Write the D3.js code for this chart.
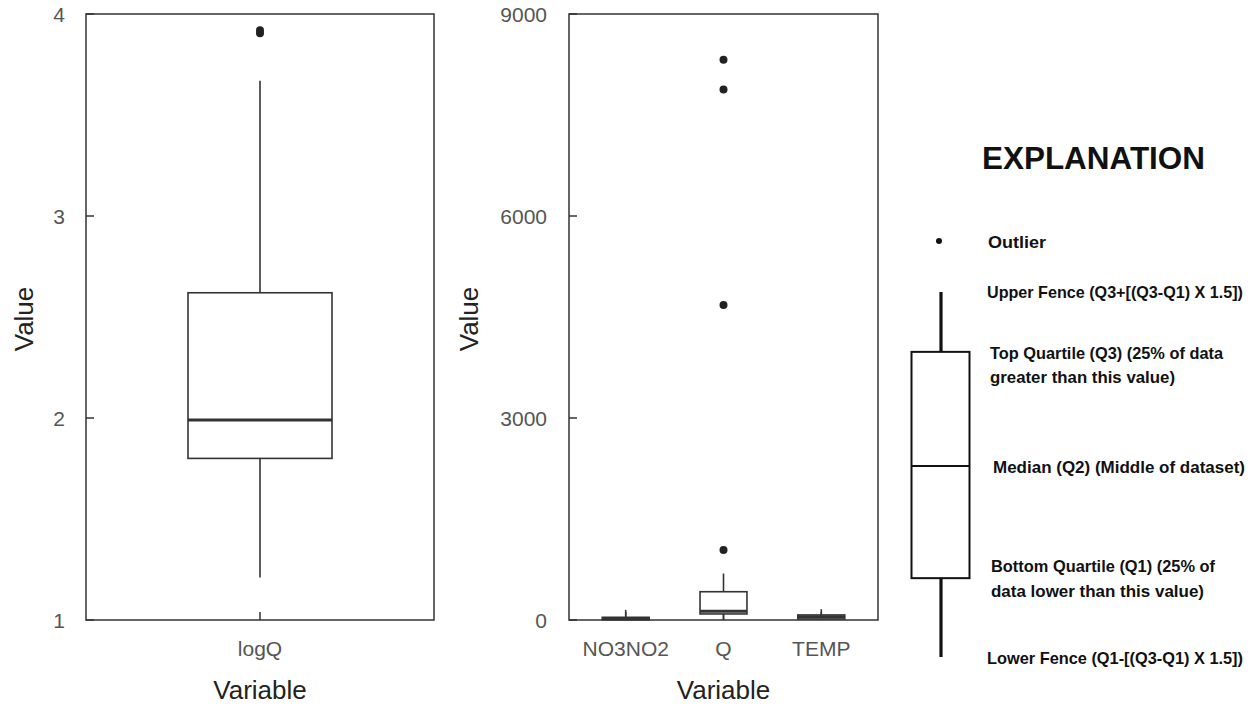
<!DOCTYPE html>
<html>
<head>
<meta charset="utf-8">
<script src="https://cdn.jsdelivr.net/npm/d3@7"></script>
<style>
  body { margin: 0; background: #fff; }
  svg { display: block; }
  .tick-label { font-family: "Liberation Sans", Arial, sans-serif; font-size: 21px; fill: #555; }
  .axis-title { font-family: "Liberation Sans", Arial, sans-serif; font-size: 26px; fill: #222; }
  .legend { font-family: "Liberation Sans Narrow", "Liberation Sans", sans-serif; font-weight: bold; fill: #111; }
</style>
</head>
<body>
<div id="chart"></div>
<script>
// left panel: log of discharge
const logCategories = ['logQ'];
const logLower = [1.21];
const logQ1 = [1.80];
const logMedian = [1.99];
const logQ3 = [2.62];
const logUpper = [3.67];
const logOutliers = [[3.905, 3.92]];
const logTicks = [1, 2, 3, 4];

// right panel: raw variables
const rawCategories = ['NO3NO2', 'Q', 'TEMP'];
const rawLower = [0, 4, 0];
const rawQ1 = [5, 90, 15];
const rawMedian = [20, 130, 50];
const rawQ3 = [40, 420, 75];
const rawUpper = [150, 690, 160];
const rawOutliers = [[], [1040, 4680, 7880, 8320], []];
const rawTicks = [0, 3000, 6000, 9000];

// explanation (schematic box)
const legendLower = 0;
const legendQ1 = 2.16;
const legendMedian = 5.23;
const legendQ3 = 8.36;
const legendUpper = 10;
const legendOutlier = 11.4;

const width = 1257, height = 708;
const svg = d3.select('#chart').append('svg')
  .attr('width', width)
  .attr('height', height);

function buildStats(cats, lower, q1, med, q3, upper, outs) {
  return cats.map((c, i) => ({
    key: c, lower: lower[i], q1: q1[i], median: med[i], q3: q3[i], upper: upper[i], outliers: outs[i]
  }));
}

function drawPanel(opts) {
  const { left, right, top, bottom, domain, ticks, stats, labelX, titleX } = opts;
  const g = svg.append('g');

  const y = d3.scaleLinear().domain(domain).range([bottom, top]);
  const x = d3.scalePoint()
    .domain(stats.map(d => d.key))
    .range([left, right])
    .padding(0.58);
  const boxW = x.step() * 0.48;

  // frame
  g.append('rect')
    .attr('x', left).attr('y', top)
    .attr('width', right - left).attr('height', bottom - top)
    .attr('fill', 'none')
    .attr('stroke', '#333')
    .attr('stroke-width', 1.5);

  // y ticks (pointing in)
  g.selectAll('.ytick').data(ticks).enter().append('line')
    .attr('x1', left).attr('x2', left + 8)
    .attr('y1', d => y(d)).attr('y2', d => y(d))
    .attr('stroke', '#333').attr('stroke-width', 1.5);

  g.selectAll('.ylab').data(ticks).enter().append('text')
    .attr('class', 'tick-label')
    .attr('x', labelX)
    .attr('y', d => y(d))
    .attr('dy', '0.36em')
    .attr('text-anchor', 'end')
    .text(d => d);

  // x ticks
  g.selectAll('.xtick').data(stats).enter().append('line')
    .attr('x1', d => x(d.key)).attr('x2', d => x(d.key))
    .attr('y1', bottom).attr('y2', bottom - 8)
    .attr('stroke', '#333').attr('stroke-width', 1.5);

  g.selectAll('.xlab').data(stats).enter().append('text')
    .attr('class', 'tick-label')
    .attr('x', d => x(d.key))
    .attr('y', 656)
    .attr('text-anchor', 'middle')
    .text(d => d.key);

  // boxes
  const box = g.selectAll('.box').data(stats).enter().append('g');

  box.append('line')
    .attr('x1', d => x(d.key)).attr('x2', d => x(d.key))
    .attr('y1', d => y(d.q3)).attr('y2', d => y(d.upper))
    .attr('stroke', '#333').attr('stroke-width', 1.6);
  box.append('line')
    .attr('x1', d => x(d.key)).attr('x2', d => x(d.key))
    .attr('y1', d => y(d.q1)).attr('y2', d => y(d.lower))
    .attr('stroke', '#333').attr('stroke-width', 1.6);
  box.append('rect')
    .attr('x', d => x(d.key) - boxW / 2)
    .attr('width', boxW)
    .attr('y', d => y(d.q3))
    .attr('height', d => Math.max(1, y(d.q1) - y(d.q3)))
    .attr('fill', '#fff')
    .attr('stroke', '#333').attr('stroke-width', 1.6);
  box.append('line')
    .attr('x1', d => x(d.key) - boxW / 2).attr('x2', d => x(d.key) + boxW / 2)
    .attr('y1', d => y(d.median)).attr('y2', d => y(d.median))
    .attr('stroke', '#333').attr('stroke-width', 3);

  box.selectAll('circle').data(d => d.outliers.map(v => ({ key: d.key, v }))).enter()
    .append('circle')
    .attr('cx', d => x(d.key))
    .attr('cy', d => y(d.v))
    .attr('r', 4)
    .attr('fill', '#222');

  // axis titles
  g.append('text')
    .attr('class', 'axis-title')
    .attr('x', (left + right) / 2)
    .attr('y', 699)
    .attr('text-anchor', 'middle')
    .text('Variable');

  g.append('text')
    .attr('class', 'axis-title')
    .attr('transform', `translate(${titleX},319) rotate(-90)`)
    .attr('text-anchor', 'middle')
    .text('Value');
}

drawPanel({
  left: 86, right: 434, top: 14, bottom: 620,
  domain: [1, 4], ticks: logTicks,
  stats: buildStats(logCategories, logLower, logQ1, logMedian, logQ3, logUpper, logOutliers),
  labelX: 65, titleX: 33
});

drawPanel({
  left: 569, right: 878, top: 14, bottom: 620,
  domain: [0, 9000], ticks: rawTicks,
  stats: buildStats(rawCategories, rawLower, rawQ1, rawMedian, rawQ3, rawUpper, rawOutliers),
  labelX: 547, titleX: 478
});

// EXPLANATION legend
const lg = svg.append('g');
const ly = d3.scaleLinear().domain([legendLower, legendUpper]).range([657, 292]);
const lx = 941, lw = 58;

lg.append('text')
  .attr('class', 'legend')
  .attr('x', 982).attr('y', 169)
  .attr('font-size', 32)
  .attr('textLength', 223)
  .attr('lengthAdjust', 'spacingAndGlyphs')
  .text('EXPLANATION');

lg.append('circle')
  .attr('cx', lx - 2).attr('cy', ly(legendOutlier)).attr('r', 3)
  .attr('fill', '#111');

lg.append('line')
  .attr('x1', lx).attr('x2', lx)
  .attr('y1', ly(legendUpper)).attr('y2', ly(legendQ3))
  .attr('stroke', '#111').attr('stroke-width', 3.2);
lg.append('line')
  .attr('x1', lx).attr('x2', lx)
  .attr('y1', ly(legendQ1)).attr('y2', ly(legendLower))
  .attr('stroke', '#111').attr('stroke-width', 3.2);
lg.append('rect')
  .attr('x', lx - lw / 2 - 0.5).attr('width', lw)
  .attr('y', ly(legendQ3)).attr('height', ly(legendQ1) - ly(legendQ3))
  .attr('fill', 'none')
  .attr('stroke', '#111').attr('stroke-width', 2);
lg.append('line')
  .attr('x1', lx - lw / 2 - 0.5).attr('x2', lx + lw / 2 - 0.5)
  .attr('y1', ly(legendMedian)).attr('y2', ly(legendMedian))
  .attr('stroke', '#111').attr('stroke-width', 2);

const legendLines = [
  { text: 'Outlier', x: 988, y: 248, len: 58 },
  { text: 'Upper Fence (Q3+[(Q3-Q1) X 1.5])', x: 987, y: 298, len: 256 },
  { text: 'Top Quartile (Q3) (25% of data', x: 990, y: 359, len: 233 },
  { text: 'greater than this value)', x: 990, y: 383, len: 185 },
  { text: 'Median (Q2) (Middle of dataset)', x: 993, y: 473, len: 252 },
  { text: 'Bottom Quartile (Q1) (25% of', x: 991, y: 572, len: 224 },
  { text: 'data lower than this value)', x: 991, y: 597, len: 213 },
  { text: 'Lower Fence (Q1-[(Q3-Q1) X 1.5])', x: 987, y: 664, len: 256 }
];

lg.selectAll('.ltext').data(legendLines).enter().append('text')
  .attr('class', 'legend')
  .attr('x', d => d.x).attr('y', d => d.y)
  .attr('font-size', 16.5)
  .attr('textLength', d => d.len)
  .attr('lengthAdjust', 'spacingAndGlyphs')
  .text(d => d.text);
</script>
</body>
</html>
